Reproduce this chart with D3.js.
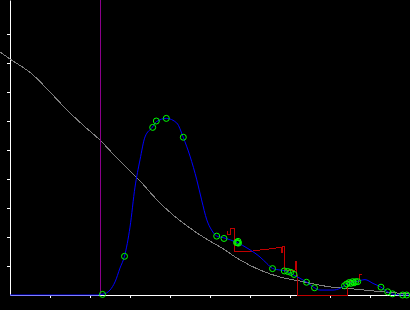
<!DOCTYPE html>
<html>
<head>
<meta charset="utf-8">
<script src="https://cdn.jsdelivr.net/npm/d3@7"></script>
<style>
  html, body { margin: 0; padding: 0; background: #000; }
  svg { display: block; }
</style>
</head>
<body>
<svg id="drawing_region"></svg>
<script>
// density curve (blue)
const densX = [0, 2.2, 2.25, 2.325, 2.5, 2.625, 2.75, 2.8625, 3.0, 3.125, 3.25, 3.375, 3.5625, 3.6625, 3.9125, 4.17, 4.33, 4.5, 4.67, 4.79, 4.92, 5.04, 5.16, 5.35, 5.675, 5.95, 6.25, 6.42, 6.56, 6.75, 6.9, 7.09, 7.41, 7.61, 7.75, 8.075, 8.25, 8.36, 8.475, 8.65, 8.875, 9.075, 9.275, 9.44, 9.56, 9.82, 10];
const densY = [0, 0, 0.02, 0.03, 0.17, 0.45, 0.93, 1.34, 2.34, 3.72, 4.66, 5.45, 5.79, 5.98, 6.09, 5.93, 5.44, 4.79, 3.97, 3.28, 2.59, 2.24, 2.04, 1.97, 1.81, 1.60, 1.31, 1.09, 0.92, 0.86, 0.83, 0.69, 0.45, 0.25, 0.17, 0.17, 0.23, 0.32, 0.43, 0.46, 0.53, 0.40, 0.27, 0.11, 0.03, 0, 0];

// sample points (green circles)
const ptX = [2.3125, 2.8625, 3.5675, 3.6575, 3.9075, 4.3325, 5.1675, 5.35, 5.6625, 5.6875, 5.7125, 5.70, 6.5625, 6.8575, 6.9425, 7.0175, 7.1, 7.4125, 7.6125, 8.3625, 8.4175, 8.4825, 8.5675, 8.6425, 8.6925, 8.60, 8.52, 9.275, 9.4425, 9.5625, 9.8175, 9.9175];
const ptY = [0.02, 1.334, 5.78, 6.0, 6.09, 5.44, 2.03, 1.95, 1.81, 1.80, 1.79, 1.85, 0.91, 0.83, 0.81, 0.78, 0.71, 0.44, 0.25, 0.32, 0.38, 0.43, 0.46, 0.46, 0.46, 0.42, 0.40, 0.27, 0.11, 0.04, 0.0, 0.0];

// reference curve (gray)
const refX = [-0.25, 0, 0.575, 1.0, 1.425, 1.825, 2.25, 2.675, 3.225, 3.675, 4.075, 4.5, 4.75, 5.0, 5.25, 5.75, 6.25, 6.75, 7.25, 8.0, 8.5, 9.0, 9.5, 10.0];
const refY = [8.38, 8.14, 7.59, 7.0, 6.38, 5.86, 5.34, 4.72, 3.97, 3.28, 2.76, 2.31, 2.07, 1.86, 1.66, 1.21, 0.86, 0.62, 0.48, 0.28, 0.22, 0.15, 0.09, 0.03];

// step line (red)
const stepX = [5.4325, 5.4325, 5.5175, 5.5175, 5.6075, 5.6075, 5.95, 6.25, 6.5, 6.75, 6.775, 6.775, 6.8125, 6.8125, 6.8575, 6.8575, 7.125, 7.14, 7.1675, 7.1875, 8.4425, 8.4425, 8.725, 8.725, 8.8];
const stepY = [2.21, 2.07, 2.07, 2.28, 2.28, 1.49, 1.49, 1.55, 1.59, 1.64, 1.64, 1.48, 1.48, 1.67, 1.67, 0.86, 0.86, 1.14, 1.14, -0.03, -0.03, 0.48, 0.48, 0.72, 0.72];

// vertical marker
const markerX = 2.25;

const xTicks = [1, 2, 3, 4, 5, 6, 7, 8, 9];
const yTicks = [1, 2, 3, 4, 5, 6, 7, 8, 9];

const config = {
    width: 410,
    height: 310,
    x0: 10,
    y0: 295
};

const svg = d3.select('#drawing_region')
    .attr('width', config.width)
    .attr('height', config.height)
    .style('background', '#000');

const xscale = d3.scaleLinear()
    .domain([0, 10])
    .range([config.x0, config.x0 + 400]);

const yscale = d3.scaleLinear()
    .domain([0, config.y0 / 29])
    .range([config.y0, 0]);

// axes
const xaxis = d3.axisBottom(xscale)
    .tickValues(xTicks)
    .tickSize(3)
    .tickSizeOuter(0)
    .tickFormat('');

const yaxis = d3.axisLeft(yscale)
    .tickValues(yTicks)
    .tickSize(3)
    .tickSizeOuter(0)
    .tickFormat('');

svg.append('g')
    .attr('transform', `translate(0, ${config.y0})`)
    .call(xaxis)
    .call(g => g.selectAll('path, line').attr('stroke', '#fff'));

svg.append('g')
    .attr('transform', `translate(${config.x0}, 0)`)
    .call(yaxis)
    .call(g => g.selectAll('path, line').attr('stroke', '#fff'));

const line = d3.line()
    .x(d => xscale(d[0]))
    .y(d => yscale(d[1]));

// gray reference curve
svg.append('path')
    .datum(d3.zip(refX, refY))
    .attr('d', line.curve(d3.curveMonotoneX))
    .attr('fill', 'none')
    .attr('stroke', '#808080')
    .attr('stroke-width', 1)
    .attr('shape-rendering', 'crispEdges');

// purple marker
svg.append('line')
    .attr('x1', xscale(markerX) + 0.5)
    .attr('x2', xscale(markerX) + 0.5)
    .attr('y1', 0)
    .attr('y2', config.y0)
    .attr('stroke', '#8b008b')
    .attr('stroke-width', 1);

// red step line
svg.append('path')
    .datum(d3.zip(stepX, stepY))
    .attr('d', line.curve(d3.curveLinear))
    .attr('fill', 'none')
    .attr('stroke', '#c00000')
    .attr('stroke-width', 1)
    .attr('shape-rendering', 'crispEdges');

// blue density
svg.append('path')
    .datum(d3.zip(densX, densY))
    .attr('d', line.curve(d3.curveMonotoneX))
    .attr('fill', 'none')
    .attr('stroke', '#0000ff')
    .attr('stroke-width', 1);

// green sample circles
svg.append('g')
    .selectAll('circle')
    .data(d3.zip(ptX, ptY))
    .enter()
    .append('circle')
    .attr('cx', d => xscale(d[0]))
    .attr('cy', d => yscale(d[1]))
    .attr('r', 3)
    .attr('fill', 'none')
    .attr('stroke', '#00ff00')
    .attr('stroke-width', 1);
</script>
</body>
</html>
